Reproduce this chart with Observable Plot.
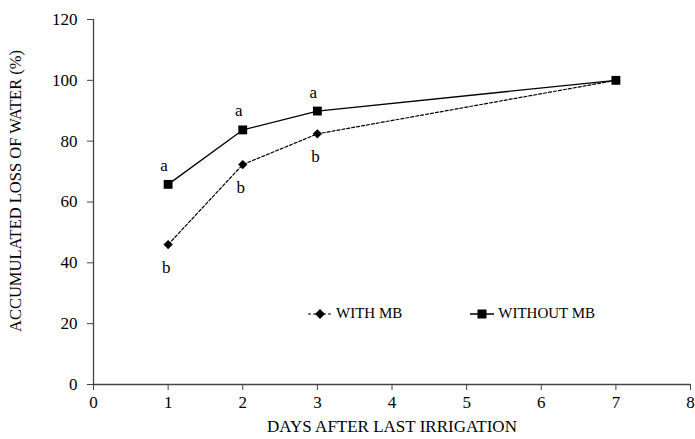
<!DOCTYPE html>
<html>
<head>
<meta charset="utf-8">
<script src="https://cdn.jsdelivr.net/npm/d3@7"></script>
<script src="https://cdn.jsdelivr.net/npm/@observablehq/plot@0.6"></script>
<style>
  body { margin: 0; background: #fff; }
  #wrap { position: relative; width: 695px; height: 439px; font-family: "Liberation Serif", "Times New Roman", serif; }
  #legend { position: absolute; left: 308px; top: 305px; font-size: 15px; color: #000; display: flex; align-items: center; }
  #legend .item { display: flex; align-items: center; margin-right: 0; }
  #legend svg { display: block; }
</style>
</head>
<body>
<div id="wrap">
  <div id="chart"></div>
  <div id="legend"></div>
</div>
<script>
const days = [1, 2, 3, 7];
const withMB = [46, 72.3, 82.4, 100];
const withoutMB = [65.8, 83.7, 89.9, 100];
const withLetters = ["b", "b", "b", ""];
const withoutLetters = ["a", "a", "a", ""];
const xTicks = [0, 1, 2, 3, 4, 5, 6, 7, 8];
const yTicks = [0, 20, 40, 60, 80, 100, 120];
const seriesNames = ["WITH MB", "WITHOUT MB"];

const rowsWith = days.map((d, i) => ({x: d, y: withMB[i], label: withLetters[i]}));
const rowsWithout = days.map((d, i) => ({x: d, y: withoutMB[i], label: withoutLetters[i]}));

const chart = Plot.plot({
  width: 695,
  height: 439,
  marginLeft: 93,
  marginRight: 5,
  marginTop: 19,
  marginBottom: 55,
  style: {fontFamily: '"Liberation Serif", "Times New Roman", serif', fontSize: "17px", color: "#000", background: "#fff"},
  x: {domain: [0, 8], ticks: xTicks},
  y: {domain: [0, 120], ticks: yTicks},
  marks: [
    Plot.axisX({ticks: xTicks, tickSize: 6, tickPadding: 5, fontSize: 17, stroke: "#444", label: null}),
    Plot.axisY({ticks: yTicks, tickSize: 6, tickPadding: 10, fontSize: 17, stroke: "#444", label: null}),
    Plot.ruleY([0], {stroke: "#444", strokeWidth: 1.3}),
    Plot.ruleX([0], {stroke: "#444", strokeWidth: 1.3}),
    Plot.line(rowsWith, {x: "x", y: "y", stroke: "#000", strokeWidth: 1.2, strokeDasharray: "3,2"}),
    Plot.line(rowsWithout, {x: "x", y: "y", stroke: "#000", strokeWidth: 1.3}),
    Plot.dot(rowsWith, {x: "x", y: "y", symbol: "diamond2", r: 4.2, fill: "#000", stroke: "none"}),
    Plot.dot(rowsWithout, {x: "x", y: "y", symbol: "square", r: 5, fill: "#000", stroke: "none"}),
    Plot.text(rowsWithout, {x: "x", y: "y", text: "label", dy: -19, dx: -4, fontSize: 17}),
    Plot.text(rowsWith, {x: "x", y: "y", text: "label", dy: 23, dx: -2, fontSize: 17}),
    Plot.text(["DAYS AFTER LAST IRRIGATION"], {frameAnchor: "bottom", dy: 47, fontSize: 17}),
    Plot.text(["ACCUMULATED LOSS OF WATER (%)"], {frameAnchor: "left", textAnchor: "middle", dx: -78, dy: -11, rotate: -90, fontSize: 16.5})
  ]
});
document.getElementById("chart").appendChild(chart);

// legend
const legend = document.getElementById("legend");
const items = [
  {name: seriesNames[0], dash: "3,2", sym: "diamond"},
  {name: seriesNames[1], dash: null, sym: "square"}
];
items.forEach((it, i) => {
  const div = document.createElement("div");
  div.className = "item";
  div.style.marginRight = i === 0 ? "68px" : "0";
  const ns = "http://www.w3.org/2000/svg";
  const s = document.createElementNS(ns, "svg");
  s.setAttribute("width", 28); s.setAttribute("height", 16);
  const l = document.createElementNS(ns, "line");
  l.setAttribute("x1", 0); l.setAttribute("x2", 24); l.setAttribute("y1", 8); l.setAttribute("y2", 8);
  l.setAttribute("stroke", "#000"); l.setAttribute("stroke-width", it.dash ? 1.2 : 1.5);
  if (it.dash) l.setAttribute("stroke-dasharray", it.dash);
  s.appendChild(l);
  if (it.sym === "diamond") {
    const p = document.createElementNS(ns, "path");
    p.setAttribute("d", "M12,3 L17,8 L12,13 L7,8 Z");
    p.setAttribute("fill", "#000");
    s.appendChild(p);
  } else {
    const r = document.createElementNS(ns, "rect");
    r.setAttribute("x", 7.5); r.setAttribute("y", 3.5); r.setAttribute("width", 9); r.setAttribute("height", 9);
    r.setAttribute("fill", "#000");
    s.appendChild(r);
  }
  div.appendChild(s);
  const t = document.createElement("span");
  t.textContent = it.name;
  div.appendChild(t);
  legend.appendChild(div);
});
</script>
</body>
</html>
